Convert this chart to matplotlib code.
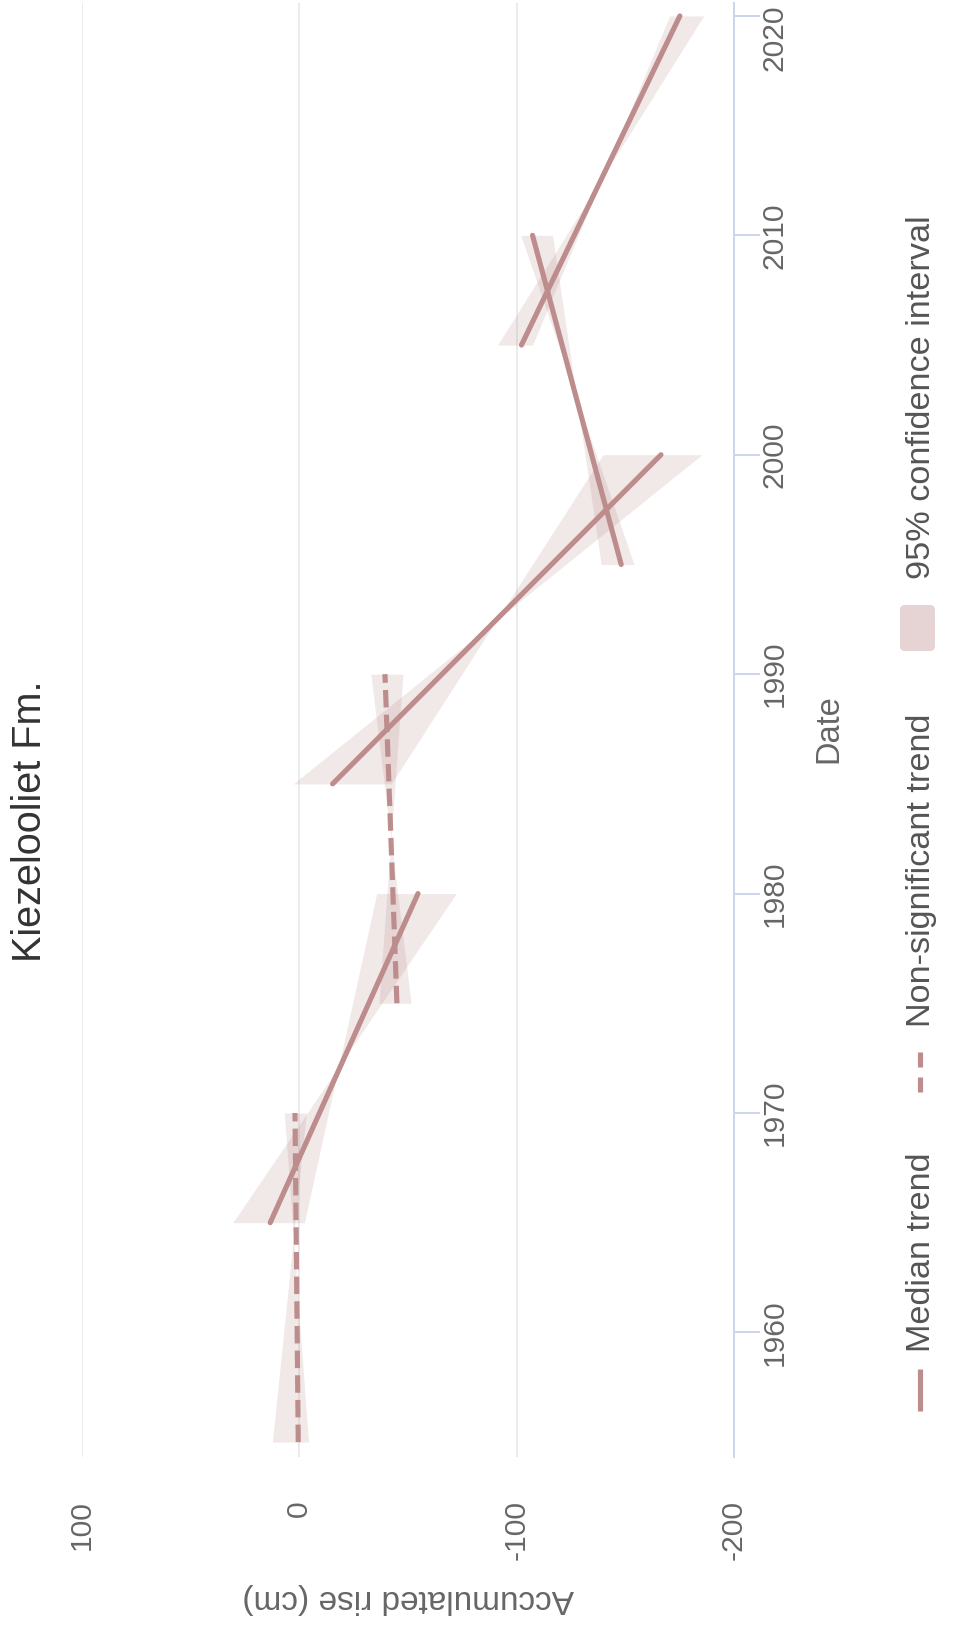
import numpy as np
import matplotlib
matplotlib.use("Agg")
import matplotlib.pyplot as plt
import matplotlib.transforms as mtransforms
from matplotlib.lines import Line2D
from matplotlib.patches import FancyBboxPatch

plt.rcParams['font.family'] = ['Liberation Sans', 'DejaVu Sans']
plt.rcParams['axes.unicode_minus'] = False

# trend segments (years) and accumulated rise (cm) at both ends
seg_start = [1955, 1965, 1975, 1985, 1995, 2005]
seg_end = [1970, 1980, 1990, 2000, 2010, 2020]
trend_start = [0.5, 13.4, -44.9, -15.3, -148.1, -102.2]
trend_end = [2.0, -54.6, -39.4, -166.4, -107.3, -175.1]
# 95% confidence bounds (two lines that cross mid-segment)
ci_a_start = [12.4, 30.6, -36.6, 2.8, -138.9, -91.2]
ci_a_end = [-3.2, -72.2, -47.7, -185.2, -116.5, -186.0]
ci_b_start = [-4.2, -2.3, -51.4, -42.3, -154.0, -107.3]
ci_b_end = [6.9, -35.6, -32.9, -139.7, -101.9, -170.4]
significant = [False, True, False, True, True, True]

rise_ticks = [100, 0, -100, -200]
rise_labels = ["100", "0", "-100", "-200"]
date_ticks = [1960, 1970, 1980, 1990, 2000, 2010, 2020]

LINE = "#bd8c8c"
AXIS = "#ccd6eb"
W, H = 957, 1651

fig = plt.figure(figsize=(W / 100, H / 100), dpi=100)
# chart is drawn turned a quarter turn: rise runs left->right, date bottom->top
ax = fig.add_axes([82 / W, (H - 1457) / H, 652 / W, (1457 - 3) / H])

for i in range(len(seg_start)):
    t = [seg_start[i], seg_end[i]]
    ax.fill_betweenx(t, [ci_a_start[i], ci_a_end[i]], [ci_b_start[i], ci_b_end[i]],
                     color=LINE, alpha=0.2, linewidth=0, zorder=2)

lw = 3.7
for i in range(len(seg_start)):
    t = [seg_start[i], seg_end[i]]
    v = [trend_start[i], trend_end[i]]
    if significant[i]:
        ax.plot(v, t, color=LINE, lw=lw, solid_capstyle="round", zorder=3)
    else:
        ax.plot(v, t, color=LINE, lw=lw, linestyle=(0, (3.4, 1.4)),
                dash_capstyle="butt", zorder=3)

ax.set_xlim(100, -200)
ax.set_ylim(1954.32, 2020.59)

ax.set_xticks(rise_ticks)
ax.set_xticklabels(rise_labels)
ax.grid(axis="x", color="#e6e6e6", linewidth=1.1, zorder=0)
ax.set_axisbelow(True)
ax.tick_params(axis="x", length=0, pad=31, labelrotation=90,
               labelsize=21.6, labelcolor="#666666")

ax.yaxis.tick_right()
ax.set_yticks(date_ticks)
ax.tick_params(axis="y", length=18.7, width=1.44, color=AXIS, direction="out",
               labelright=False)
for s in ["left", "top", "bottom"]:
    ax.spines[s].set_visible(False)
ax.spines["right"].set_color(AXIS)
ax.spines["right"].set_linewidth(1.44)

# date labels, nudged inside the figure when they overflow (like the original)
trans = mtransforms.blended_transform_factory(ax.transAxes, ax.transData)
date_texts = []
for yr in date_ticks:
    date_texts.append(ax.text((761 - 82) / 652, yr, str(yr), transform=trans,
                              rotation=90, ha="left", va="center",
                              fontsize=21.6, color="#666666"))
fig.canvas.draw()
for txt in date_texts:
    bb = txt.get_window_extent()
    over = bb.y1 - (H - 4)
    if over > 0:
        txt.set_transform(trans + mtransforms.Affine2D().translate(0, -over))

fig.text(30 / W, 1 - 821 / H, "Kiezelooliet Fm.", rotation=90, ha="center",
         va="center", fontsize=28.5, color="#333333")
fig.text(829 / W, 1 - 729 / H, "Date", rotation=90, ha="center", va="center",
         fontsize=23.5, color="#666666")
fig.text(408 / W, 1 - 1598 / H, "Accumulated rise (cm)", rotation=180,
         ha="center", va="center", fontsize=24, color="#666666")

# legend, turned with the chart
lx = 920
fig.add_artist(Line2D([lx, lx], [H - 1369, H - 1411], transform=mtransforms.IdentityTransform(),
                      color=LINE, lw=lw, solid_capstyle="butt"))
fig.add_artist(Line2D([lx, lx], [H - 1052, H - 1092], transform=mtransforms.IdentityTransform(),
                      color=LINE, lw=lw, linestyle=(0, (10.8 / lw, 7.2 / lw)),
                      dash_capstyle="butt"))
fig.add_artist(FancyBboxPatch((900, H - 651), 35, 46,
                              boxstyle="round,pad=0,rounding_size=5",
                              transform=mtransforms.IdentityTransform(),
                              facecolor="#e6d4d4", edgecolor="none"))
legend_items = [("Median trend", 1252), ("Non-significant trend", 870),
                ("95% confidence interval", 397)]
for label, yc in legend_items:
    fig.text(lx / W + 0.002, 1 - yc / H, label, rotation=90, ha="center",
             va="center", fontsize=24.7, color="#555555")

fig.savefig("out.png", dpi=100)
